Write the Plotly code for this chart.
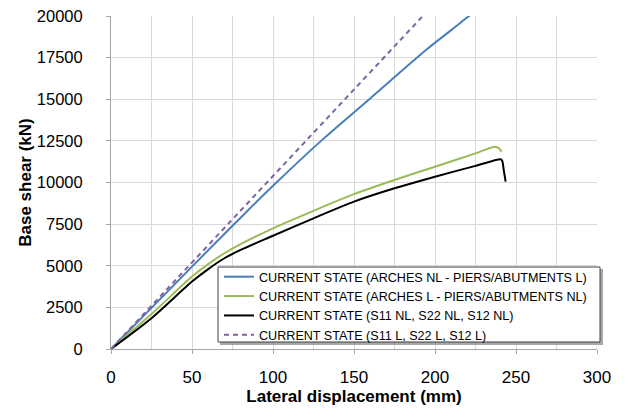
import plotly.graph_objects as go

# Data
disp_blue = [0, 25, 50, 75, 100, 130, 160, 195, 210, 221, 230]
shear_blue = [0, 2470, 4950, 7400, 9800, 12530, 15050, 18000, 19150, 20000, 20650]

disp_green = [0, 25, 50, 60, 70, 80, 100, 125, 150, 175, 200, 225, 237, 239.5, 241]
shear_green = [0, 2100, 4350, 5100, 5750, 6300, 7250, 8300, 9300, 10150, 10950, 11750, 12150, 12050, 11850]

disp_black = [0, 25, 50, 60, 70, 80, 100, 125, 150, 175, 200, 225, 240.5, 241.5, 242.5, 243.6]
shear_black = [0, 1850, 4050, 4800, 5450, 5950, 6800, 7850, 8850, 9650, 10350, 11000, 11400, 11300, 10700, 10050]

disp_purple = [0, 192.5]
shear_purple = [0, 20000]

names = [
    "CURRENT STATE (ARCHES NL - PIERS/ABUTMENTS L)",
    "CURRENT STATE (ARCHES L - PIERS/ABUTMENTS NL)",
    "CURRENT STATE (S11 NL, S22 NL, S12 NL)",
    "CURRENT STATE (S11 L, S22 L, S12 L)",
]

x_ticks = [0, 50, 100, 150, 200, 250, 300]
y_ticks = [0, 2500, 5000, 7500, 10000, 12500, 15000, 17500, 20000]

FONT = "Liberation Sans, Arial, sans-serif"

fig = go.Figure()
fig.add_trace(go.Scatter(x=disp_blue, y=shear_blue, mode="lines", name=names[0],
                         line=dict(color="#4a7ebb", width=2, shape="spline", smoothing=1)))
fig.add_trace(go.Scatter(x=disp_green, y=shear_green, mode="lines", name=names[1],
                         line=dict(color="#9bbb59", width=2, shape="spline", smoothing=0.8)))
fig.add_trace(go.Scatter(x=disp_black, y=shear_black, mode="lines", name=names[2],
                         line=dict(color="#000000", width=2, shape="spline", smoothing=0.7)))
fig.add_trace(go.Scatter(x=disp_purple, y=shear_purple, mode="lines", name=names[3],
                         line=dict(color="#8064a2", width=2, dash="5px,4px")))

W, H = 625, 409
ml, mr, mt, mb = 111, 28, 16, 60
pw, ph = W - ml - mr, H - mt - mb

def px_x(p):
    return (p - ml) / pw

def px_y(p):
    return (H - mb - p) / ph

# legend shadow and box
fig.add_shape(type="rect", xref="paper", yref="paper",
              x0=px_x(220), x1=px_x(603), y0=px_y(345), y1=px_y(269),
              fillcolor="rgba(110,110,110,0.6)", line=dict(width=0), layer="above")
fig.add_shape(type="rect", xref="paper", yref="paper",
              x0=px_x(218), x1=px_x(600), y0=px_y(342), y1=px_y(267),
              fillcolor="white", line=dict(color="#404040", width=1), layer="above")

fig.update_layout(
    width=W, height=H,
    margin=dict(l=ml, r=mr, t=mt, b=mb, autoexpand=False),
    paper_bgcolor="white", plot_bgcolor="white",
    font=dict(family=FONT, color="#000000"),
    showlegend=True,
    legend=dict(
        x=px_x(219), y=px_y(262), xanchor="left", yanchor="top",
        bgcolor="rgba(0,0,0,0)", borderwidth=0,
        font=dict(family=FONT, size=12.6, color="#000000"),
        tracegroupgap=0, itemwidth=30,
    ),
    xaxis=dict(
        range=[0, 300], tickvals=x_ticks, ticks="outside", ticklen=4, tickcolor="#a6a6a6",
        showgrid=True, gridcolor="#d9d9d9", gridwidth=1,
        minor=dict(dtick=25, showgrid=True, gridcolor="#d9d9d9", gridwidth=1),
        showline=True, linecolor="#a6a6a6", linewidth=1, automargin=False,
        zeroline=False, tickfont=dict(family=FONT, size=17),
        ticklabelstandoff=9,
        title=dict(text="<b>Lateral displacement (mm)</b>", font=dict(family=FONT, size=17), standoff=2),
    ),
    yaxis=dict(
        range=[0, 20000], tickvals=y_ticks, tickformat="d", ticks="outside", ticklen=4,
        tickcolor="#a6a6a6", automargin=False,
        showgrid=True, gridcolor="#d9d9d9", gridwidth=1,
        showline=True, linecolor="#a6a6a6", linewidth=1,
        zeroline=False, tickfont=dict(family=FONT, size=16.5),
        ticklabelstandoff=20,
        title=dict(text="<b>Base shear (kN)</b>", font=dict(family=FONT, size=17), standoff=0),
    ),
)

fig.write_html("out.html")
